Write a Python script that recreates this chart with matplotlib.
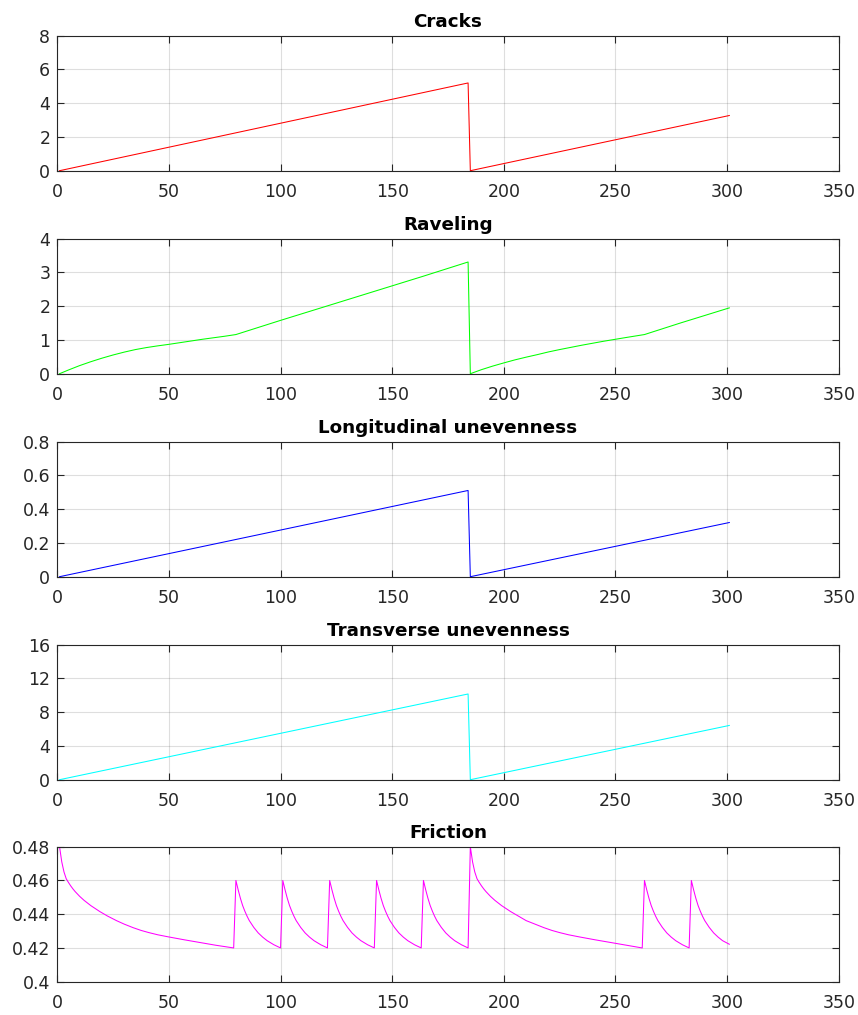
import matplotlib
matplotlib.use('Agg')
import matplotlib.pyplot as plt

plt.rcParams['font.family'] = ['DejaVu Sans']

# damage indicators over time (two maintenance cycles, reset at t=185)
cracks_x = [1, 184, 185, 301]
cracks_y = [0, 5.20, 0, 3.27]

ravel_x = [1, 5, 10, 15, 20, 25, 30, 35, 40, 45, 50, 55, 60, 65, 70, 75, 80,
           100, 122, 143, 164, 184,
           185, 190, 195, 200, 205, 210, 215, 220, 225, 230, 235, 240, 245, 250, 255, 263,
           279, 301]
ravel_y = [0, 0.11, 0.24, 0.355, 0.46, 0.555, 0.64, 0.715, 0.775, 0.825, 0.87, 0.92, 0.97, 1.02, 1.065, 1.11, 1.16,
           1.58, 2.03, 2.46, 2.89, 3.31,
           0, 0.12, 0.225, 0.32, 0.41, 0.49, 0.565, 0.645, 0.715, 0.78, 0.845, 0.905, 0.965, 1.02, 1.075, 1.16,
           1.50, 1.95]

long_x = [1, 184, 185, 301]
long_y = [0, 0.511, 0, 0.321]

trans_x = [1, 184, 185, 301]
trans_y = [0, 10.16, 0, 6.43]

fric_x = [1, 2, 3, 4, 5, 6, 7, 8, 10, 12, 15, 19, 22.5, 26.5, 30, 34, 37.5, 41, 45, 50, 57, 64, 71, 79,
          80, 81, 82, 83, 84, 85, 86, 88, 90, 92, 94, 97, 100,
          101, 102, 103, 104, 105, 106, 107, 109, 111, 113, 115, 118, 121,
          122, 123, 124, 125, 126, 127, 128, 130, 132, 134, 136, 139, 142,
          143, 144, 145, 146, 147, 148, 149, 151, 153, 155, 157, 160, 163,
          164, 165, 166, 167, 168, 169, 170, 172, 174, 176, 178, 181, 184,
          185, 186, 187, 188, 189, 190, 191, 192, 194, 196, 199, 203, 206.5, 210, 214, 218, 221.5, 225, 229, 234,
          241, 248, 255, 262,
          263, 264, 265, 266, 267, 268, 269, 271, 273, 275, 277, 280, 283,
          284, 285, 286, 287, 288, 289, 290, 292, 294, 296, 298, 301]
fric_y = [0.48, 0.471, 0.465, 0.461, 0.4588, 0.4568, 0.455, 0.4534, 0.4506, 0.4482, 0.4451, 0.4416, 0.4389, 0.4362,
          0.4341, 0.432, 0.4304, 0.4291, 0.4278, 0.4265, 0.4248, 0.4232, 0.4216, 0.42,
          0.46, 0.4545, 0.4495, 0.4452, 0.4418, 0.4388, 0.4362, 0.4322, 0.4289, 0.4264, 0.4243, 0.4219, 0.42,
          0.46, 0.4545, 0.4495, 0.4452, 0.4418, 0.4388, 0.4362, 0.4322, 0.4289, 0.4264, 0.4243, 0.4219, 0.42,
          0.46, 0.4545, 0.4495, 0.4452, 0.4418, 0.4388, 0.4362, 0.4322, 0.4289, 0.4264, 0.4243, 0.4219, 0.42,
          0.46, 0.4545, 0.4495, 0.4452, 0.4418, 0.4388, 0.4362, 0.4322, 0.4289, 0.4264, 0.4243, 0.4219, 0.42,
          0.46, 0.4545, 0.4495, 0.4452, 0.4418, 0.4388, 0.4362, 0.4322, 0.4289, 0.4264, 0.4243, 0.4219, 0.42,
          0.48, 0.471, 0.465, 0.461, 0.4588, 0.4568, 0.455, 0.4534, 0.4506, 0.4482, 0.4451, 0.4416, 0.4389, 0.4362,
          0.4341, 0.432, 0.4304, 0.4291, 0.4278, 0.4265, 0.4248, 0.4232, 0.4216, 0.42,
          0.46, 0.4545, 0.4495, 0.4452, 0.4418, 0.4388, 0.4362, 0.4322, 0.4289, 0.4264, 0.4243, 0.4219, 0.42,
          0.46, 0.4545, 0.4495, 0.4452, 0.4418, 0.4388, 0.4362, 0.4322, 0.4289, 0.4264, 0.4243, 0.4222]

panels = [
    ("Cracks", cracks_x, cracks_y, (1, 0, 0), (0, 8), [0, 2, 4, 6, 8], ['0', '2', '4', '6', '8']),
    ("Raveling", ravel_x, ravel_y, (0, 1, 0), (0, 4), [0, 1, 2, 3, 4], ['0', '1', '2', '3', '4']),
    ("Longitudinal unevenness", long_x, long_y, (0, 0, 1), (0, 0.8), [0, 0.2, 0.4, 0.6, 0.8],
     ['0', '0.2', '0.4', '0.6', '0.8']),
    ("Transverse unevenness", trans_x, trans_y, (0, 1, 1), (0, 16), [0, 4, 8, 12, 16],
     ['0', '4', '8', '12', '16']),
    ("Friction", fric_x, fric_y, (1, 0, 1), (0.4, 0.48), [0.4, 0.42, 0.44, 0.46, 0.48],
     ['0.4', '0.42', '0.44', '0.46', '0.48']),
]

xticks = [0, 50, 100, 150, 200, 250, 300, 350]
dark = (0.15, 0.15, 0.15)

W, H = 858, 1015
fig = plt.figure(figsize=(W / 100, H / 100), dpi=100)
tops = [35.7, 238.7, 441.7, 644.7, 846.7]
axh = 135.0
for top, (title, x, y, col, ylim, yt, ytl) in zip(tops, panels):
    ax = fig.add_axes([57.3 / W, 1 - (top + axh) / H, 781.4 / W, axh / H])
    ax.plot(x, y, color=col, linewidth=0.75)
    ax.set_xlim(0, 350)
    ax.set_ylim(*ylim)
    ax.set_xticks(xticks)
    ax.set_xticklabels([str(v) for v in xticks])
    ax.set_yticks(yt)
    ax.set_yticklabels(ytl)
    ax.grid(True, color=dark, alpha=0.15, linewidth=0.8)
    ax.set_axisbelow(True)
    for s in ax.spines.values():
        s.set_color(dark)
        s.set_linewidth(0.8)
    ax.tick_params(direction='in', length=5, width=0.8, color=dark, labelcolor=dark,
                   labelsize=12.5, top=True, right=True)
    ax.tick_params(axis='x', pad=9)
    ax.tick_params(axis='y', pad=5)
    ax.set_title(title, fontsize=13.2, fontweight='bold', pad=6)

fig.savefig('out.png', dpi=100)
